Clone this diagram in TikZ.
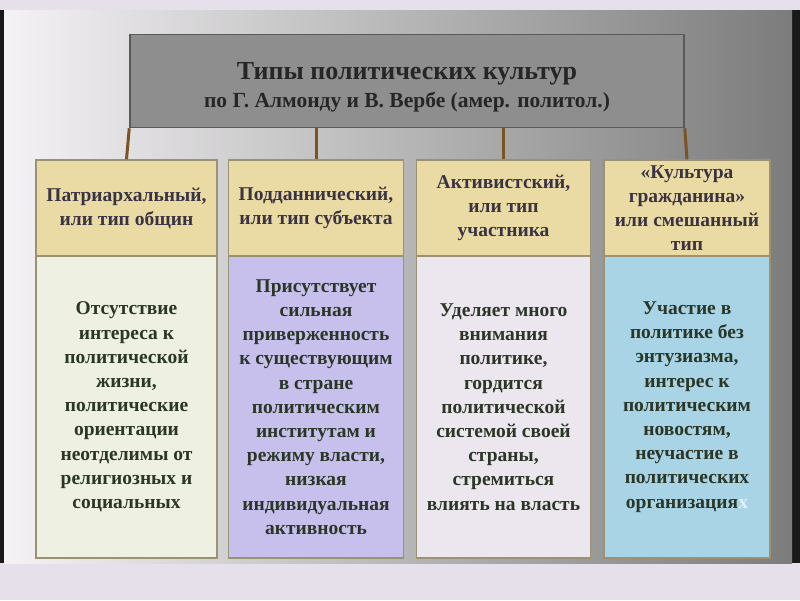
\documentclass[tikz,border=0pt]{standalone}
\usepackage{fontspec}
\setmainfont{Liberation Serif}
\definecolor{band}{HTML}{E6E0EA}
\definecolor{bgleft}{HTML}{F4F2F4}
\definecolor{bgmid}{HTML}{BEBEBE}
\definecolor{bgright}{HTML}{7C7C7C}
\definecolor{titleside}{HTML}{8E8E8E}
\definecolor{titlemid}{HTML}{B6B6B6}
\definecolor{titleline}{HTML}{5A5A5A}
\definecolor{linkbrown}{HTML}{7B5426}
\definecolor{headfill}{HTML}{EADBA4}
\definecolor{boxline}{HTML}{9A9272}
\definecolor{headtext}{HTML}{3A3344}
\definecolor{bodytext}{HTML}{2A3626}
\definecolor{commfill}{HTML}{EEF1E2}
\definecolor{subjfill}{HTML}{C8C0EC}
\definecolor{actfill}{HTML}{ECE6EE}
\definecolor{citfill}{HTML}{A8D4E6}
\definecolor{ghost}{HTML}{E4F2F6}

\begin{document}
\begin{tikzpicture}[x=1pt,y=-1pt,
		title/.style={draw=titleline,line width=1.5pt,left color=titleside,middle color=titlemid,right color=titleside,text=black!85,minimum width=554pt,minimum height=93pt,align=center,inner sep=0pt},
		head/.style={draw=boxline,line width=1.5pt,fill=headfill,text=headtext,minimum width=#1,minimum height=96pt,align=center,inner sep=0pt,font=\bfseries\fontsize{19.5}{24}\selectfont},
		body/.style={draw=boxline,line width=1.5pt,text=bodytext,minimum width=#1,minimum height=302pt,align=center,inner sep=0pt,font=\bfseries\fontsize{19.5}{24.2}\selectfont},
		link/.style={linkbrown,line width=3pt}]
		\useasboundingbox (0,0) rectangle (800,600);
		\fill[band] (0,0) rectangle (800,600);
		\fill[black!90] (0,10) rectangle (800,563);
		\shade[left color=bgleft,middle color=bgmid,right color=bgright] (4,10) rectangle (792,563);
		\node[title] (title) at (407,81) {{\bfseries\fontsize{26}{28}\selectfont\rule{0pt}{30pt}Типы политических культур}\\[6pt]{\bfseries\fontsize{21.5}{22}\selectfont по Г. Алмонду и В. Вербе (амер. политол.)}};
		\node[head=181pt] (head1) at (126.5,208) {Патриархальный,\\или тип общин};
		\node[head=175pt] (head2) at (316,208) {Подданнический,\\или тип субъекта};
		\node[head=174pt] (head3) at (503.5,208) {Активистский,\\или тип\\участника};
		\node[head=166pt] (head4) at (687,208) {«Культура\\гражданина»\\или смешанный\\тип};
		\node[body=181pt,fill=commfill] (body1) at (126.5,407) {Отсутствие\\интереса к\\политической\\жизни,\\политические\\ориентации\\неотделимы от\\религиозных и\\социальных};
		\node[body=175pt,fill=subjfill] (body2) at (316,407) {Присутствует\\сильная\\приверженность\\к существующим\\в стране\\политическим\\институтам и\\режиму власти,\\низкая\\индивидуальная\\активность};
		\node[body=174pt,fill=actfill] (body3) at (503.5,407) {Уделяет много\\внимания\\политике,\\гордится\\политической\\системой своей\\страны,\\стремиться\\влиять на власть};
		\node[body=166pt,fill=citfill] (body4) at (687,407) {Участие в\\политике без\\энтузиазма,\\интерес к\\политическим\\новостям,\\неучастие в\\политических\\организация\textcolor{ghost}{х}};
		\draw[link] (title.south west) -- (head1.north);
		\draw[link] (head2.north |- title.south) -- (head2.north);
		\draw[link] (head3.north |- title.south) -- (head3.north);
		\draw[link] (title.south east) -- (head4.north);
	\end{tikzpicture}
\end{document}
